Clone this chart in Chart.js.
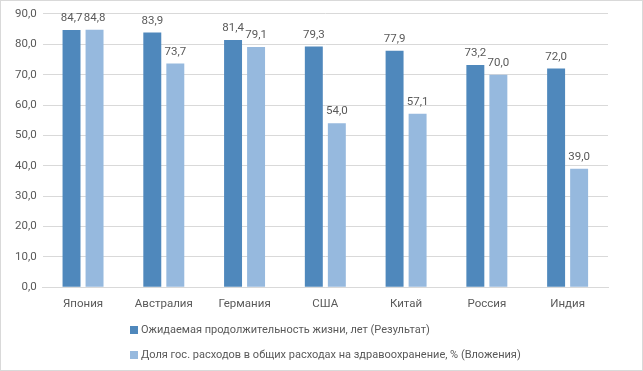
<!DOCTYPE html>
<html>
<head>
<meta charset="utf-8">
<script src="https://cdn.jsdelivr.net/npm/chart.js@4.4.0/dist/chart.umd.min.js"></script>
<style>
  html, body { margin: 0; padding: 0; background: #fff; }
  #wrap { position: relative; width: 641px; height: 369px; border: 1px solid #d9d9d9; }
</style>
</head>
<body>
<div id="wrap"><canvas id="chart"></canvas></div>
<script>
// data
const countries = ['Япония', 'Австралия', 'Германия', 'США', 'Китай', 'Россия', 'Индия'];
const lifeExpectancy = [84.7, 83.9, 81.4, 79.3, 77.9, 73.2, 72.0];
const healthShare = [84.8, 73.7, 79.1, 54.0, 57.1, 70.0, 39.0];
const seriesNames = [
    'Ожидаемая продолжительность жизни, лет (Результат)',
    'Доля гос. расходов в общих расходах на здравоохранение, % (Вложения)'
];
const yTicks = [0, 10, 20, 30, 40, 50, 60, 70, 80, 90];

const textColor = '#595959';
const fontFamily = 'Roboto, Liberation Sans, sans-serif';
const fontSize = 11.5;

function fmt(v) {
    return v.toFixed(1).replace('.', ',');
}

// value labels above each bar
const valueLabels = {
    id: 'valueLabels',
    afterDatasetsDraw(chart) {
        const ctx = chart.ctx;
        ctx.save();
        ctx.font = fontSize + 'px ' + fontFamily;
        ctx.fillStyle = textColor;
        ctx.textAlign = 'center';
        ctx.textBaseline = 'bottom';
        chart.data.datasets.forEach((ds, i) => {
            chart.getDatasetMeta(i).data.forEach((bar, j) => {
                ctx.fillText(fmt(ds.data[j]), bar.x, bar.y - 6);
            });
        });
        ctx.restore();
    }
};

// legend: two rows, left aligned like the original
const bottomLegend = {
    id: 'bottomLegend',
    afterDraw(chart) {
        const ctx = chart.ctx;
        ctx.save();
        ctx.font = '11px ' + fontFamily;
        ctx.textBaseline = 'middle';
        ctx.textAlign = 'left';
        const left = 129;
        const rows = [329, 354];
        chart.data.datasets.forEach((ds, i) => {
            ctx.fillStyle = ds.backgroundColor;
            ctx.fillRect(left, rows[i] - 4, 8, 8);
            ctx.fillStyle = textColor;
            ctx.fillText(ds.label, left + 11, rows[i]);
        });
        ctx.restore();
    }
};

const ctx = document.getElementById('chart').getContext('2d');

new Chart(ctx, {
    type: 'bar',
    data: {
        labels: countries,
        datasets: [
            {
                label: seriesNames[0],
                data: lifeExpectancy,
                backgroundColor: '#4f88bc',
                barPercentage: 0.78,
                categoryPercentage: 0.57
            },
            {
                label: seriesNames[1],
                data: healthShare,
                backgroundColor: '#96b9de',
                barPercentage: 0.78,
                categoryPercentage: 0.57
            }
        ]
    },
    options: {
        responsive: true,
        maintainAspectRatio: false,
        animation: false,
        layout: {
            padding: { top: 11, right: 34, bottom: 49, left: 8 }
        },
        plugins: {
            legend: { display: false },
            tooltip: { enabled: false }
        },
        scales: {
            x: {
                grid: { display: false, drawTicks: false },
                border: { color: '#d9d9d9' },
                ticks: {
                    color: textColor,
                    font: { size: fontSize, family: fontFamily },
                    padding: 10
                }
            },
            y: {
                min: 0,
                max: 90,
                afterBuildTicks(axis) {
                    axis.ticks = yTicks.map(v => ({ value: v }));
                },
                grid: { color: '#d9d9d9', drawTicks: false },
                border: { display: false },
                ticks: {
                    color: textColor,
                    font: { size: fontSize, family: fontFamily },
                    padding: 6,
                    callback: v => fmt(v)
                }
            }
        }
    },
    plugins: [valueLabels, bottomLegend]
});
</script>
</body>
</html>
